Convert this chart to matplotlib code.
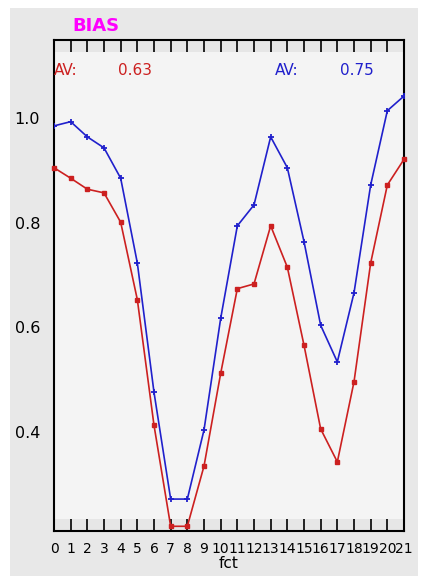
import matplotlib
matplotlib.use("Agg")
import matplotlib.pyplot as plt
from matplotlib.patches import Rectangle

fct = list(range(22))
tick_labels = [str(i) for i in fct]
red_vals = [0.905, 0.885, 0.864, 0.857, 0.801, 0.653, 0.413, 0.220, 0.220, 0.335, 0.512,
            0.674, 0.683, 0.794, 0.715, 0.566, 0.406, 0.343, 0.496, 0.723, 0.872, 0.921]
blue_vals = [0.985, 0.993, 0.964, 0.943, 0.885, 0.723, 0.476, 0.272, 0.272, 0.404, 0.617,
             0.794, 0.834, 0.964, 0.905, 0.764, 0.604, 0.534, 0.666, 0.872, 1.014, 1.042]
yticks = [0.4, 0.6, 0.8, 1.0]
red_av = "0.63"
blue_av = "0.75"

W, H = 421, 579
fig = plt.figure(figsize=(W / 100, H / 100), dpi=100)
fig.patch.set_facecolor("white")
fig.add_artist(Rectangle((10 / W, 1 - 576 / H), 408 / W, 568 / H, transform=fig.transFigure,
                         facecolor="#e8e8e8", edgecolor="none", zorder=0))

ax = fig.add_axes([54 / W, 1 - 531 / H, 350 / W, 491.5 / H])
ax.set_facecolor("#f4f4f4")
ax.add_patch(Rectangle((0, 0), 1, 0.025, transform=ax.transAxes, facecolor="#e6e6e6",
                       edgecolor="none", zorder=0))
ax.add_patch(Rectangle((0, 0.975), 1, 0.025, transform=ax.transAxes, facecolor="#e6e6e6",
                       edgecolor="none", zorder=0))

red = "#cc2020"
blue = "#2020cc"
ax.plot(fct, red_vals, color=red, lw=1.2, marker="s", ms=3.5, mec=red, mfc=red, zorder=3,
        clip_on=False)
ax.plot(fct, blue_vals, color=blue, lw=1.2, marker="+", ms=5, mew=1.3, mec=blue, zorder=4,
        clip_on=True)

ax.set_xlim(0, 21)
ax.set_ylim(0.211, 1.15)
ax.set_xticks(fct)
ax.set_xticklabels(tick_labels, fontsize=10)
ax.set_yticks(yticks)
ax.set_yticklabels([f"{v:.1f}" for v in yticks], fontsize=11.5)
ax.tick_params(axis="x", direction="in", length=8.5, width=1.2, top=True, bottom=True,
               pad=8, colors="black")
ax.tick_params(axis="y", length=0, pad=10)
for s in ax.spines.values():
    s.set_linewidth(1.5)
    s.set_color("black")
ax.set_xlabel("fct", fontsize=11, labelpad=0)

fig.text(72 / W, 1 - 26 / H, "BIAS", color="#ff00ff", fontsize=13, fontweight="bold",
         va="center", ha="left")
fig.text(54 / W, 1 - 70 / H, "AV:", color=red, fontsize=11, va="center", ha="left")
fig.text(118 / W, 1 - 70 / H, red_av, color=red, fontsize=11, va="center", ha="left")
fig.text(275 / W, 1 - 70 / H, "AV:", color=blue, fontsize=11, va="center", ha="left")
fig.text(340 / W, 1 - 70 / H, blue_av, color=blue, fontsize=11, va="center", ha="left")

fig.savefig("out.png", dpi=100, facecolor="white")
